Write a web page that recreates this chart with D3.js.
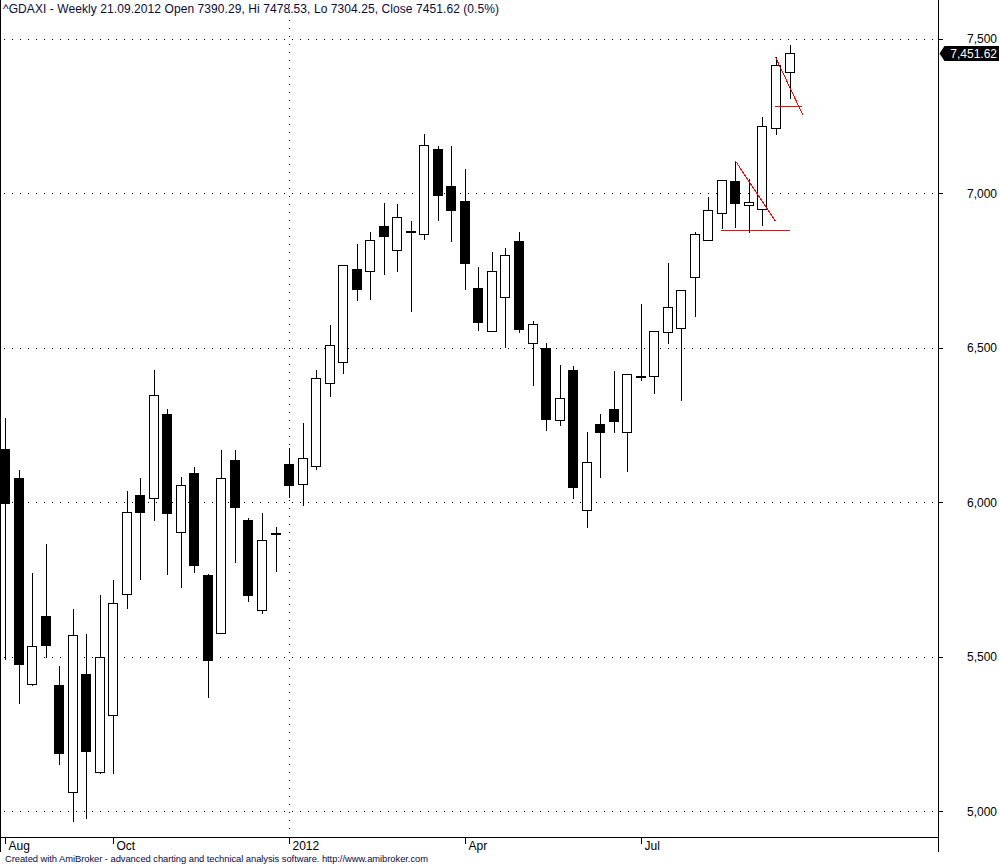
<!DOCTYPE html>
<html><head><meta charset="utf-8">
<script src="https://cdn.jsdelivr.net/npm/d3@7"></script>
<style>
body{margin:0;background:#fff}
svg{display:block}
text{font-family:"Liberation Sans",Arial,sans-serif}
</style>
</head><body>
<svg id="c" width="999" height="865"></svg>
<script>
// ---- data (weekly ^GDAXI bars) ----
const dates = [
"2011-08-12","2011-08-19","2011-08-26","2011-09-02","2011-09-09","2011-09-16","2011-09-23","2011-09-30",
"2011-10-07","2011-10-14","2011-10-21","2011-10-28","2011-11-04","2011-11-11","2011-11-18","2011-11-25",
"2011-12-02","2011-12-09","2011-12-16","2011-12-23","2011-12-30",
"2012-01-06","2012-01-13","2012-01-20","2012-01-27","2012-02-03","2012-02-10","2012-02-17","2012-02-24",
"2012-03-02","2012-03-09","2012-03-16","2012-03-23","2012-03-30","2012-04-06","2012-04-13","2012-04-20",
"2012-04-27","2012-05-04","2012-05-11","2012-05-18","2012-05-25","2012-06-01","2012-06-08","2012-06-15",
"2012-06-22","2012-06-29","2012-07-06","2012-07-13","2012-07-20","2012-07-27","2012-08-03","2012-08-10",
"2012-08-17","2012-08-24","2012-08-31","2012-09-07","2012-09-14","2012-09-21"];
const openV  = [6171,6077,5411,5633,5410,5062,5445,5127,5312,5704,6022,6014,6284,5903,6096,5765,5577,6138,5943,5652,5898,
                6124,6058,6117,6387,6455,6753,6749,6893,6817,6877,6869,7144,7022,6974,6694,6554,6664,6844,6516,6500,6266,6427,
                5976,6254,6303,6227,6408,6409,6552,6562,6729,6847,6934,7038,6960,6947,7209,7390.29];
const highV  = [6272,6103,5772,5866,5471,5653,5575,5701,5747,6036,6077,6427,6300,6083,6113,5768,6168,6168,5950,5964,5921,
                6176,6256,6429,6572,6766,6835,6873,6967,6964,6909,7191,7152,7152,7077,6760,6809,6822,6873,6585,6516,6444,6440,
                6226,6284,6423,6416,6640,6555,6773,6688,6873,6987,7041,7104,7046,7245,7441,7478.53];
const lowV   = [5490,5346,5404,5495,5149,4967,4974,5121,5121,5654,5748,5939,5764,5722,5772,5365,5573,5803,5676,5637,5774,
                6014,5988,6104,6340,6416,6651,6655,6735,6745,6615,6849,6910,6842,6687,6554,6551,6499,6547,6376,6230,6246,6009,
                5917,6078,6224,6097,6392,6350,6512,6327,6599,6845,6884,6887,6871,6893,7189,7304.25];
const closeV = [5998,5476,5535,5537,5187,5571,5194,5500,5675,5967,5968,6346,5965,6057,5796,5490,6079,5984,5699,5878,5899,
                6055,6142,6403,6510,6766,6690,6847,6861,6922,6878,7157,6994,6946,6774,6583,6749,6801,6560,6578,6269,6338,6049,
                6131,6227,6262,6416,6409,6555,6630,6688,6866,6944,7041,6968,6970,7216,7413,7451.62];
const yTicks = [5000,5500,6000,6500,7000,7500];
const xTickDates  = ["2011-08-12","2011-10-07","2012-01-06","2012-04-06","2012-07-06"];
const xTickLabels = ["Aug","Oct","2012","Apr","Jul"];
const yearLineDates = ["2012-01-06"];
// red study lines: [barIndex, price] endpoints
const studyLines = [
  [[54.0,7104],[56.95,6910]],
  [[52.95,6879],[58.0,6879]],
  [[56.95,7441],[58.98,7253]],
  [[56.95,7280],[58.93,7280]]
];
const titleText = "^GDAXI - Weekly 21.09.2012 Open 7390.29, Hi 7478.53, Lo 7304.25, Close 7451.62 (0.5%)";
const footerText = "Created with AmiBroker - advanced charting and technical analysis software. http://www.amibroker.com";

// ---- layout ----
const svg = d3.select("#c");
const plotRight = 938.5, plotBottom = 837.5, axisBottom = 852;
const x = d3.scaleLinear().domain([0, dates.length-1]).range([5, 789.5]);
const y = d3.scaleLinear().domain([5000, 7500]).range([811.3, 38.5]);
const bars = dates.map((d,i)=>({d,i,o:openV[i],h:highV[i],l:lowV[i],c:closeV[i]}));
const px = v => Math.round(v) + 0.5;

svg.append("clipPath").attr("id","pc").append("rect")
  .attr("x",1).attr("y",0).attr("width",plotRight-1).attr("height",plotBottom);

// grid
const grid = svg.append("g").attr("stroke","#000").attr("stroke-width",1).attr("stroke-dasharray","1,7").attr("shape-rendering","crispEdges");
grid.selectAll("line.h").data(yTicks).join("line").attr("class","h")
  .attr("x1",4).attr("x2",plotRight-2).attr("y1",d=>px(y(d))).attr("y2",d=>px(y(d)));
grid.selectAll("line.v").data(yearLineDates).join("line").attr("class","v")
  .attr("x1",d=>px(x(dates.indexOf(d)))).attr("x2",d=>px(x(dates.indexOf(d))))
  .attr("y1",4).attr("y2",plotBottom-2);

// candles
const cg = svg.append("g").attr("clip-path","url(#pc)").attr("shape-rendering","crispEdges");
const cand = cg.selectAll("g.c").data(bars).join("g").attr("class","c");
cand.append("line")
  .attr("x1",d=>px(x(d.i))).attr("x2",d=>px(x(d.i)))
  .attr("y1",d=>Math.round(y(d.h))).attr("y2",d=>Math.round(y(d.l)))
  .attr("stroke","#000").attr("stroke-width",1);
cand.append("rect")
  .attr("x",d=>px(x(d.i))-5).attr("width",9)
  .attr("y",d=>px(y(Math.max(d.o,d.c))))
  .attr("height",d=>Math.max(1, Math.round(y(Math.min(d.o,d.c))) - Math.round(y(Math.max(d.o,d.c)))))
  .attr("fill",d=>d.c>=d.o ? "#fff" : "#000")
  .attr("stroke","#000").attr("stroke-width",1);

// red study lines
svg.append("g").attr("clip-path","url(#pc)").selectAll("line").data(studyLines).join("line")
  .attr("x1",d=>x(d[0][0])).attr("y1",d=>y(d[0][1]))
  .attr("x2",d=>x(d[1][0])).attr("y2",d=>y(d[1][1]))
  .attr("stroke","#ff0000").attr("stroke-width",1).attr("shape-rendering","crispEdges");

// frame / axes lines
const fr = svg.append("g").attr("stroke","#000").attr("stroke-width",1).attr("shape-rendering","crispEdges");
fr.append("line").attr("x1",0.5).attr("x2",0.5).attr("y1",0).attr("y2",axisBottom);
fr.append("line").attr("x1",plotRight).attr("x2",plotRight).attr("y1",0).attr("y2",axisBottom);
fr.append("line").attr("x1",0).attr("x2",plotRight).attr("y1",plotBottom).attr("y2",plotBottom);

// right value axis
const yAxis = d3.axisRight(y).tickValues(yTicks).tickSize(4).tickPadding(0).tickFormat(d3.format(","));
const ya = svg.append("g").attr("transform",`translate(${plotRight},0)`).call(yAxis);
ya.select(".domain").remove();
ya.selectAll(".tick line").attr("stroke","#000").attr("shape-rendering","crispEdges");
ya.selectAll(".tick text").attr("x",997-plotRight).attr("text-anchor","end")
  .attr("dy","0.35em").attr("fill","#000").style("font-size","12px")
  .style("font-family",'"Liberation Sans",Arial,sans-serif');

// bottom date axis
const xa = svg.append("g");
const xt = xa.selectAll("g").data(xTickDates).join("g")
  .attr("transform",d=>`translate(${px(x(dates.indexOf(d)))},${plotBottom})`);
xt.append("line").attr("y1",0).attr("y2",6).attr("stroke","#000").attr("shape-rendering","crispEdges");
xt.append("text").attr("x",3).attr("y",12).text((d,i)=>xTickLabels[i])
  .style("font-size","12px").attr("fill","#000");

// last price tag
const last = bars[bars.length-1];
const ly = y(last.c);
const tag = svg.append("g");
tag.append("path").attr("d",`M${plotRight+1},${ly} L${plotRight+6},${ly-7.5} L999,${ly-7.5} L999,${ly+7.5} L${plotRight+6},${ly+7.5} Z`)
  .attr("fill","#000");
tag.append("text").attr("x",997).attr("y",ly).attr("dy","0.36em").attr("text-anchor","end")
  .attr("fill","#fff").style("font-size","12px").text(d3.format(",.2f")(last.c));

// title & footer
svg.append("text").attr("x",3).attr("y",13).attr("fill","#0a0a3c").style("font-size","12px")
  .attr("textLength",496).attr("lengthAdjust","spacing").text(titleText);
svg.append("text").attr("x",5).attr("y",862).attr("fill","#0a0a3c").style("font-size","9.4px")
  .attr("textLength",423).attr("lengthAdjust","spacing").text(footerText);
</script>
</body></html>
